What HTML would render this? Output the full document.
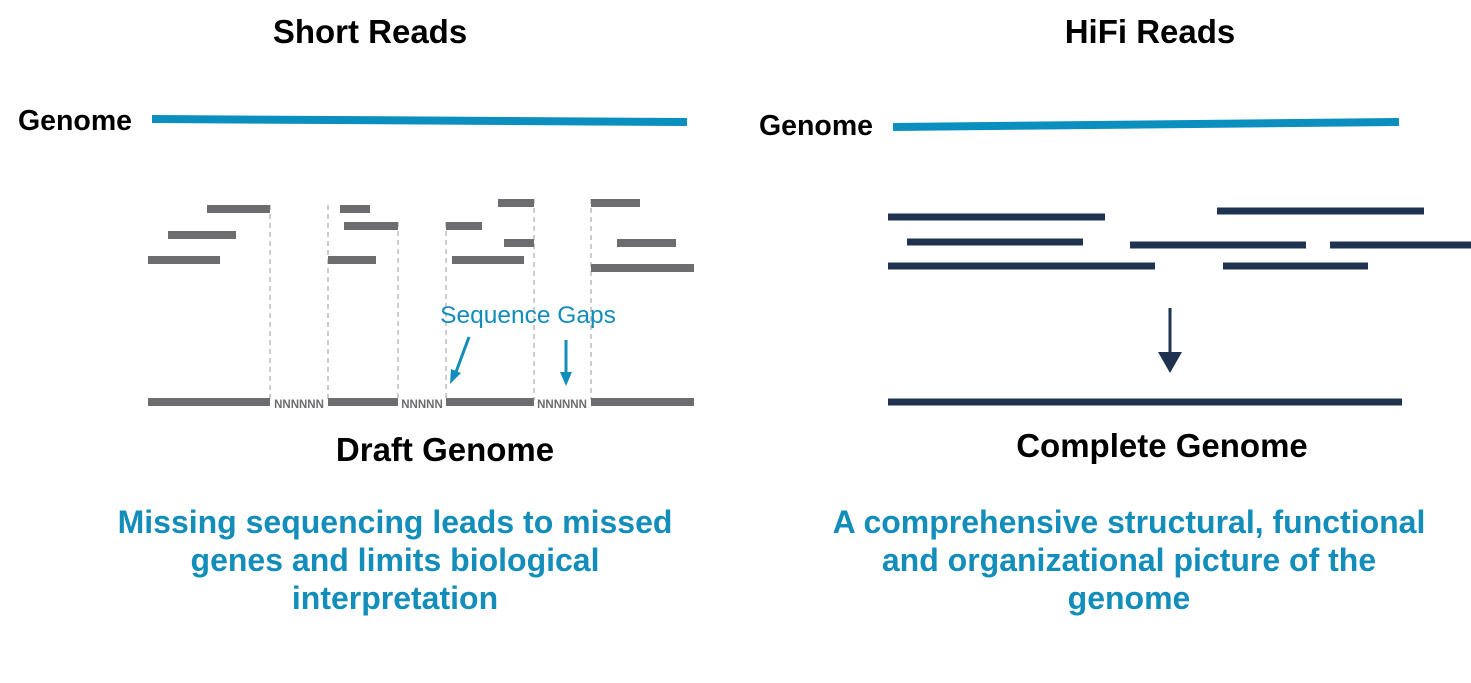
<!DOCTYPE html>
<html><head><style>
body{margin:0;width:1471px;height:683px;background:#fff;overflow:hidden;position:relative;font-family:"Liberation Sans",Arial,sans-serif}
.t{position:absolute;white-space:nowrap;font-weight:bold;color:#000}
.c{transform:translateX(-50%)}
.b{position:absolute;font-weight:bold;color:#138dba;font-size:32px;line-height:38px;text-align:center;transform:translateX(-50%);white-space:nowrap}
</style></head><body>
<div class="t c" style="left:370px;top:13px;font-size:33px">Short Reads</div>
<div class="t c" style="left:1150px;top:13px;font-size:33px">HiFi Reads</div>
<div class="t" style="left:18px;top:105px;font-size:28.5px">Genome</div>
<div class="t" style="left:759px;top:110px;font-size:28.5px">Genome</div>
<div class="t c" style="left:445px;top:431px;font-size:33px">Draft Genome</div>
<div class="t c" style="left:1162px;top:427px;font-size:33px">Complete Genome</div>
<div class="b" style="left:395px;top:503px">Missing sequencing leads to missed<br>genes and limits biological<br>interpretation</div>
<div class="b" style="left:1129px;top:503px">A comprehensive structural, functional<br>and organizational picture of the<br>genome</div>
<svg width="1471" height="683" style="position:absolute;left:0;top:0">
<g stroke="#0a8fbf" stroke-width="8">
<line x1="152" y1="119" x2="687" y2="122"/>
<line x1="893" y1="127" x2="1399" y2="122"/>
</g>
<g stroke="#aaa" stroke-width="1.2" stroke-dasharray="5,4">
<line x1="270" y1="205" x2="270" y2="400"/><line x1="328" y1="205" x2="328" y2="400"/>
<line x1="398" y1="222" x2="398" y2="400"/><line x1="446" y1="222" x2="446" y2="400"/>
<line x1="534" y1="199" x2="534" y2="400"/><line x1="591" y1="199" x2="591" y2="400"/>
</g>
<g stroke="#6d6d70" stroke-width="8">
<line x1="207" y1="209" x2="270" y2="209"/><line x1="168" y1="235" x2="236" y2="235"/>
<line x1="148" y1="260" x2="220" y2="260"/><line x1="340" y1="209" x2="370" y2="209"/>
<line x1="344" y1="226" x2="398" y2="226"/><line x1="328" y1="260" x2="376" y2="260"/>
<line x1="498" y1="203" x2="534" y2="203"/><line x1="446" y1="226" x2="482" y2="226"/>
<line x1="504" y1="243" x2="534" y2="243"/><line x1="452" y1="260" x2="524" y2="260"/>
<line x1="591" y1="203" x2="640" y2="203"/><line x1="617" y1="243" x2="676" y2="243"/>
<line x1="591" y1="268" x2="694" y2="268"/>
<line x1="148" y1="402" x2="270" y2="402"/><line x1="328" y1="402" x2="398" y2="402"/>
<line x1="446" y1="402" x2="534" y2="402"/><line x1="591" y1="402" x2="694" y2="402"/>
</g>
<g fill="#6d6d70" font-family="Liberation Sans,Arial,sans-serif" font-size="11.5" font-weight="bold" text-anchor="middle">
<text x="299" y="408">NNNNNN</text><text x="422" y="408">NNNNN</text><text x="562" y="408">NNNNNN</text>
</g>
<text x="528" y="323" fill="#138dba" font-family="Liberation Sans,Arial,sans-serif" font-size="24.5" text-anchor="middle">Sequence Gaps</text>
<g stroke="#138dba" stroke-width="3" fill="#138dba">
<line x1="469" y1="337" x2="456" y2="372"/><polygon points="450,384 451,369 461,373" stroke="none"/>
<line x1="566" y1="340" x2="566" y2="374"/><polygon points="566,386 560,372 572,372" stroke="none"/>
</g>
<g stroke="#1f3350" stroke-width="7">
<line x1="888" y1="217" x2="1105" y2="217"/><line x1="1217" y1="211" x2="1424" y2="211"/>
<line x1="907" y1="242" x2="1083" y2="242"/><line x1="1130" y1="245" x2="1306" y2="245"/>
<line x1="1330" y1="245" x2="1471" y2="245"/><line x1="888" y1="266" x2="1155" y2="266"/>
<line x1="1223" y1="266" x2="1368" y2="266"/><line x1="888" y1="402" x2="1402" y2="402"/>
<line x1="1170" y1="308" x2="1170" y2="355" stroke-width="3"/>
</g>
<polygon points="1158,352 1182,352 1170,373" fill="#1f3350"/>
</svg>
</body></html>
